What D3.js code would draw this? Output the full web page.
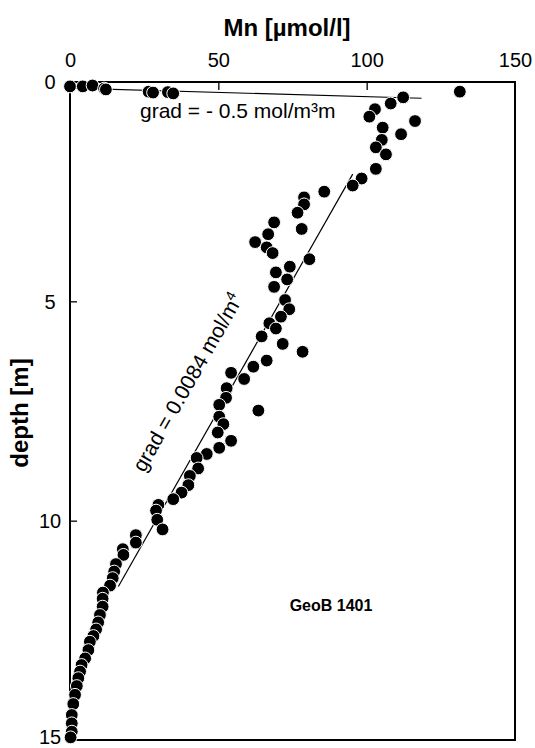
<!DOCTYPE html>
<html>
<head>
<meta charset="utf-8">
<script src="https://cdn.jsdelivr.net/npm/d3@7/dist/d3.min.js"></script>
<style>
  html, body { margin: 0; padding: 0; background: #fff; }
  svg { display: block; font-family: Arial, "Liberation Sans", sans-serif; }
</style>
</head>
<body>
<svg id="chart" width="535" height="748"></svg>
<script>
// ---- data ----
const mnTicks = [0, 50, 100, 150];
const depthTicks = [0, 5, 10, 15];

const mnValues = [0, 4.3, 7.6, 11.5, 12.1, 26.5, 28, 33, 34.8, 131.4, 112.3, 108.1, 102.8, 100.9, 116.3, 105.4, 111.6, 105.1, 103.1, 106.5, 103.1, 98.3, 95.3, 85.7, 78.9, 78.9, 76.7, 68.8, 78.1, 66.8, 62.4, 66.3, 68.3, 80.7, 74.1, 69.4, 73.2, 68.8, 72.5, 73.9, 71.1, 67.2, 69.4, 64.6, 71.7, 78.4, 66.3, 61.8, 54.3, 58.7, 52.8, 52.6, 50.3, 63.5, 50.3, 51.7, 49.8, 54.3, 50.3, 46.1, 42.7, 43.2, 40.4, 39.9, 37.6, 34.8, 29.8, 29.0, 29.4, 31.2, 22.2, 22.2, 17.8, 18.0, 15.5, 14.9, 14.4, 13.5, 11.1, 11.0, 11.0, 10.1, 9.5, 8.8, 7.9, 6.7, 6.2, 5.1, 3.9, 3.4, 2.8, 2.3, 1.7, 1.1, 0.6, 0.6, 0.6, 0.2];
const depthValues = [0.1, 0.1, 0.08, 0.15, 0.17, 0.22, 0.24, 0.23, 0.26, 0.22, 0.35, 0.49, 0.62, 0.79, 0.89, 1.04, 1.19, 1.32, 1.49, 1.65, 1.98, 2.20, 2.36, 2.50, 2.63, 2.79, 2.98, 3.2, 3.35, 3.47, 3.65, 3.77, 3.9, 4.04, 4.21, 4.34, 4.50, 4.67, 4.97, 5.18, 5.35, 5.5, 5.62, 5.8, 5.97, 6.15, 6.35, 6.49, 6.63, 6.77, 6.98, 7.2, 7.36, 7.49, 7.63, 7.8, 7.99, 8.18, 8.34, 8.48, 8.57, 8.81, 8.98, 9.19, 9.36, 9.51, 9.64, 9.77, 9.98, 10.2, 10.33, 10.5, 10.65, 10.78, 10.99, 11.16, 11.31, 11.48, 11.64, 11.78, 11.96, 12.15, 12.32, 12.48, 12.63, 12.76, 12.95, 13.14, 13.29, 13.44, 13.59, 13.77, 13.97, 14.18, 14.43, 14.62, 14.81, 14.94];

// gradient fit lines (Mn, depth) end points
const gradTopMn = [0, 118.5];
const gradTopDepth = [0.14, 0.37];
const gradDeepMn = [95.3, 16.3];
const gradDeepDepth = [2.10, 11.5];

// ---- layout ----
const plotL = 70, plotR = 515, plotT = 82, plotB = 740;
const x = d3.scaleLinear().domain([0, 150]).range([plotL, plotR]);
const y = d3.scaleLinear().domain([0, 15]).range([plotT, plotB]);

const svg = d3.select("#chart");
const FONT = "Arial, 'Liberation Sans', sans-serif";

// frame
svg.append("rect").attr("x", plotL).attr("y", plotT).attr("width", plotR - plotL).attr("height", plotB - plotT)
  .attr("fill", "none").attr("stroke", "#000").attr("stroke-width", 2);

// inward ticks via d3 axes
const xAxis = d3.axisTop(x).tickValues(mnTicks).tickSize(-8).tickFormat(d3.format("d"));
const gx = svg.append("g").attr("transform", `translate(0,${plotT})`).call(xAxis);
gx.select(".domain").remove();
gx.selectAll(".tick line").attr("stroke", "#000").attr("stroke-width", 1.3)
  .filter(d => d === 0 || d === 150).remove();
gx.selectAll(".tick text").attr("font-size", 20).attr("font-family", FONT)
  .attr("fill", "#000").attr("y", -15).attr("dy", 0);

const yAxis = d3.axisLeft(y).tickValues(depthTicks).tickSize(-7).tickFormat(d3.format("d"));
const gy = svg.append("g").attr("transform", `translate(${plotL},0)`).call(yAxis);
gy.select(".domain").remove();
gy.selectAll(".tick line").attr("stroke", "#000").attr("stroke-width", 1.3)
  .filter(d => d === 0 || d === 15).remove();
gy.selectAll(".tick text").attr("font-size", 20).attr("font-family", FONT)
  .attr("fill", "#000").attr("text-anchor", "middle").attr("x", -20)
  .attr("dy", d => d === 15 ? "0.16em" : "0.34em");

// titles
svg.append("text").attr("x", 287).attr("y", 36).attr("text-anchor", "middle")
  .attr("font-size", 24).attr("font-weight", "bold").text("Mn [µmol/l]");
svg.append("text").attr("transform", "translate(28,413) rotate(-90)").attr("text-anchor", "middle")
  .attr("font-size", 24).attr("font-weight", "bold").text("depth [m]");
svg.append("text").attr("x", 331).attr("y", 611).attr("text-anchor", "middle")
  .attr("font-size", 16).attr("font-weight", "bold").text("GeoB 1401");

// gradient lines
const lineGen = d3.line().x(d => x(d[0])).y(d => y(d[1]));
svg.append("path").attr("d", lineGen(d3.zip(gradTopMn, gradTopDepth)))
  .attr("fill", "none").attr("stroke", "#000").attr("stroke-width", 1.2);
svg.append("path").attr("d", lineGen(d3.zip(gradDeepMn, gradDeepDepth)))
  .attr("fill", "none").attr("stroke", "#000").attr("stroke-width", 1.2);

// annotations
svg.append("text").attr("x", 140).attr("y", 118).attr("font-size", 21).text("grad = - 0.5 mol/m³m");

const ang = Math.atan2(y(gradDeepDepth[0]) - y(gradDeepDepth[1]), x(gradDeepMn[0]) - x(gradDeepMn[1])) * 180 / Math.PI;
const t2 = svg.append("text").attr("transform", `translate(194,386) rotate(${ang})`)
  .attr("text-anchor", "middle").attr("font-size", 21);
t2.append("tspan").text("grad = 0.0084 mol/m");
t2.append("tspan").attr("font-size", 14).attr("dy", -8).text("4");

// points
svg.append("g").selectAll("circle").data(d3.zip(mnValues, depthValues)).join("circle")
  .attr("cx", d => x(d[0])).attr("cy", d => y(d[1])).attr("r", 6.4)
  .attr("fill", "#000").attr("stroke", "#fff").attr("stroke-width", 1);
</script>
</body>
</html>
